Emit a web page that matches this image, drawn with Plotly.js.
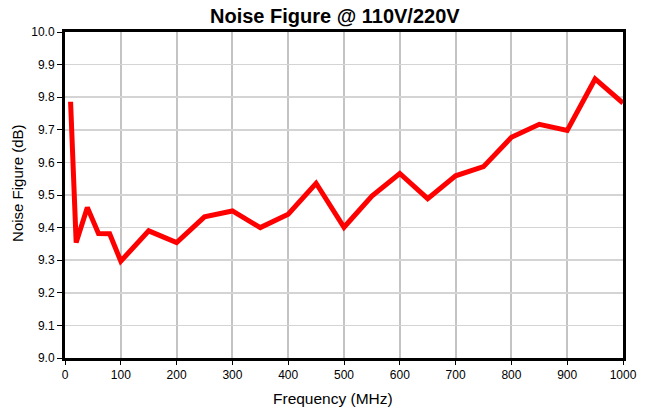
<!DOCTYPE html>
<html><head><meta charset="utf-8">
<script src="https://cdn.plot.ly/plotly-3.0.1.min.js"></script>
<style>html,body{margin:0;padding:0;background:#fff}#c{width:647px;height:410px}</style>
</head><body><div id="c"></div>
<script>
const freqMHz = [10, 20, 40, 60, 80, 100, 150, 200, 250, 300, 350, 400, 450, 500, 550, 600, 650, 700, 750, 800, 850, 900, 950, 1000];
const noiseFigureDb = [9.786, 9.354, 9.462, 9.382, 9.381, 9.297, 9.390, 9.354, 9.433, 9.451, 9.400, 9.441, 9.536, 9.401, 9.497, 9.566, 9.489, 9.559, 9.587, 9.677, 9.717, 9.698, 9.856, 9.782];
const xTicks = [0, 100, 200, 300, 400, 500, 600, 700, 800, 900, 1000];
const yTicks = [9.0, 9.1, 9.2, 9.3, 9.4, 9.5, 9.6, 9.7, 9.8, 9.9, 10.0];
const yTickText = yTicks.map(v => v.toFixed(1));

const font = 'Liberation Sans, Arial, sans-serif';
Plotly.newPlot('c', [{
  x: freqMHz, y: noiseFigureDb, type: 'scatter', mode: 'lines',
  line: {color: '#ff0000', width: 5}, hoverinfo: 'skip'
}], {
  width: 647, height: 410,
  margin: {l: 65, r: 24, t: 32, b: 52},
  paper_bgcolor: '#fff', plot_bgcolor: '#fff',
  showlegend: false,
  font: {family: font, color: '#000'},
  xaxis: {range: [0, 1000], tickvals: xTicks, ticktext: xTicks.map(String),
    showgrid: true, gridcolor: '#c4c4c4', gridwidth: 2,
    showline: true, linecolor: '#000', linewidth: 3, mirror: true,
    ticks: 'outside', ticklen: 4, tickcolor: '#000', tickwidth: 1,
    tickfont: {size: 12, family: font}, zeroline: false, fixedrange: true},
  yaxis: {range: [9.0, 10.0], tickvals: yTicks, ticktext: yTickText,
    showgrid: true, gridcolor: '#d4d4d4', gridwidth: 1.5,
    showline: true, linecolor: '#000', linewidth: 3, mirror: true,
    ticks: 'outside', ticklen: 5, tickcolor: '#000', tickwidth: 1,
    tickfont: {size: 12, family: font}, zeroline: false, fixedrange: true},
  annotations: [
    {text: '<b>Noise Figure @ 110V/220V</b>', xref: 'paper', yref: 'paper', x: 0.484, y: 1, yshift: 16.5,
     showarrow: false, font: {size: 20, family: font}, xanchor: 'center', yanchor: 'middle'},
    {text: 'Frequency (MHz)', xref: 'paper', yref: 'paper', x: 0.480, y: 0, yshift: -40,
     showarrow: false, font: {size: 15.5, family: font}, xanchor: 'center', yanchor: 'middle'},
    {text: 'Noise Figure (dB)', xref: 'paper', yref: 'paper', x: 0, xshift: -47, y: 0.537,
     showarrow: false, textangle: -90, font: {size: 15, family: font}, xanchor: 'center', yanchor: 'middle'}
  ]
}, {displayModeBar: false, staticPlot: true});
</script></body></html>
